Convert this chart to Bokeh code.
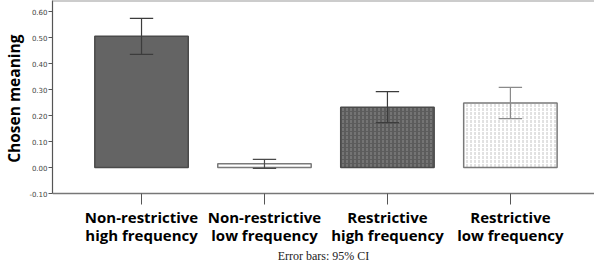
from bokeh.plotting import figure
from bokeh.models import (ColumnDataSource, Range1d, FixedTicker, Span,
                          NumeralTickFormatter, LinearAxis, Label, Title)
from bokeh.embed import file_html
from bokeh.resources import INLINE

# ---- data ----
line1 = ["Non-restrictive", "Non-restrictive", "Restrictive", "Restrictive"]
line2 = ["high frequency", "low frequency", "high frequency", "low frequency"]
means = [0.505, 0.014, 0.232, 0.248]
ci_low = [0.435, -0.003, 0.173, 0.188]
ci_high = [0.574, 0.031, 0.292, 0.308]
y_ticks = [-0.10, 0.00, 0.10, 0.20, 0.30, 0.40, 0.50, 0.60]
y_title = "Chosen meaning"
note = "Error bars: 95% CI"

# ---- styles ----
fills = ["#646464", "#ffffff", "#5c5c5c", "#ffffff"]
outlines = ["#4a4a4a", "#7a7a7a", "#4a4a4a", "#7a7a7a"]
hatches = [" ", " ", ":", ":"]
hatch_cols = ["#646464", "#ffffff", "#8c8c8c", "#c4c4c4"]
err_cols = ["#3c3c3c", "#4a4a4a", "#3c3c3c", "#8a8a8a"]

xs = list(range(len(means)))
cap = 0.095
x_start, x_end = -0.724, 3.684
y_start, y_end = -0.10, 0.6425
H = 267
px_per_unit = 193 / (y_end - y_start)
y_lo = y_end - H / px_per_unit  # frame reaches down to hold the category labels

src = ColumnDataSource(dict(
    x=xs, top=means, fill=fills, line=outlines, hatch=hatches, hcol=hatch_cols,
    lo=ci_low, hi=ci_high, ecol=err_cols,
    cl=[x - cap for x in xs], cr=[x + cap for x in xs],
))

p = figure(width=594, height=H, output_backend="svg", toolbar_location=None,
           x_range=Range1d(x_start, x_end), y_range=Range1d(y_lo, y_end),
           x_axis_location=None,
           min_border_left=46, min_border_right=0, min_border_top=0, min_border_bottom=0)
p.outline_line_color = None
p.xgrid.grid_line_color = None
p.ygrid.grid_line_color = None
p.background_fill_color = "white"
p.border_fill_color = "white"

p.vbar(x="x", top="top", bottom=0, width=0.76, source=src,
       fill_color="fill", line_color="line", line_width=1.5,
       hatch_pattern="hatch", hatch_color="hcol", hatch_scale=4, hatch_weight=1)

p.segment(x0="x", y0="lo", x1="x", y1="hi", source=src, line_color="ecol", line_width=1.2)
p.segment(x0="cl", y0="hi", x1="cr", y1="hi", source=src, line_color="ecol", line_width=1.2)
p.segment(x0="cl", y0="lo", x1="cr", y1="lo", source=src, line_color="ecol", line_width=1.2)

p.add_layout(Span(location=y_end, dimension="width", line_color="#9a9a9a", line_width=2))

# x axis drawn at y = -0.10 inside the (taller) frame
xa = LinearAxis(fixed_location=y_start, ticker=FixedTicker(ticks=xs))
xa.major_label_overrides = {x: f"{a}\n{b}" for x, a, b in zip(xs, line1, line2)}
xa.major_label_text_font = "Open Sans"
xa.major_label_text_font_style = "bold"
xa.major_label_text_font_size = "15px"
xa.major_label_text_line_height = 0.94
xa.major_label_text_color = "#000000"
xa.major_label_standoff = 2
xa.major_tick_out = 11
xa.major_tick_in = 0
xa.major_tick_line_color = "#555555"
xa.minor_tick_line_color = None
xa.axis_line_color = "#777777"
xa.axis_line_width = 1.5
p.add_layout(xa, "below")

p.add_layout(Label(x=(x_start + x_end) / 2, y=y_start, y_offset=-62, text=note,
                   text_align="center", text_baseline="alphabetic",
                   text_font="Liberation Serif", text_font_size="12px",
                   text_color="#222222"))

# y axis (line limited to the data part)
ya = p.yaxis[0]
ya.bounds = (y_start, y_end)
ya.ticker = FixedTicker(ticks=y_ticks)
ya.formatter = NumeralTickFormatter(format="0.00")
ya.major_label_text_font = "DejaVu Sans"
ya.major_label_text_font_size = "7px"
ya.major_label_text_color = "#444444"
ya.major_label_standoff = 1
ya.major_tick_out = 4
ya.major_tick_in = 0
ya.major_tick_line_color = "#555555"
ya.minor_tick_line_color = None
ya.axis_line_color = "#555555"
ya.axis_line_width = 1.2

p.add_layout(Title(text=y_title, align="right", offset=34, vertical_align="middle",
                   standoff=2, text_font="Open Sans", text_font_style="bold",
                   text_font_size="15.5px", text_color="#000000"), "left")

open("out.html", "w").write(file_html(p, INLINE))
